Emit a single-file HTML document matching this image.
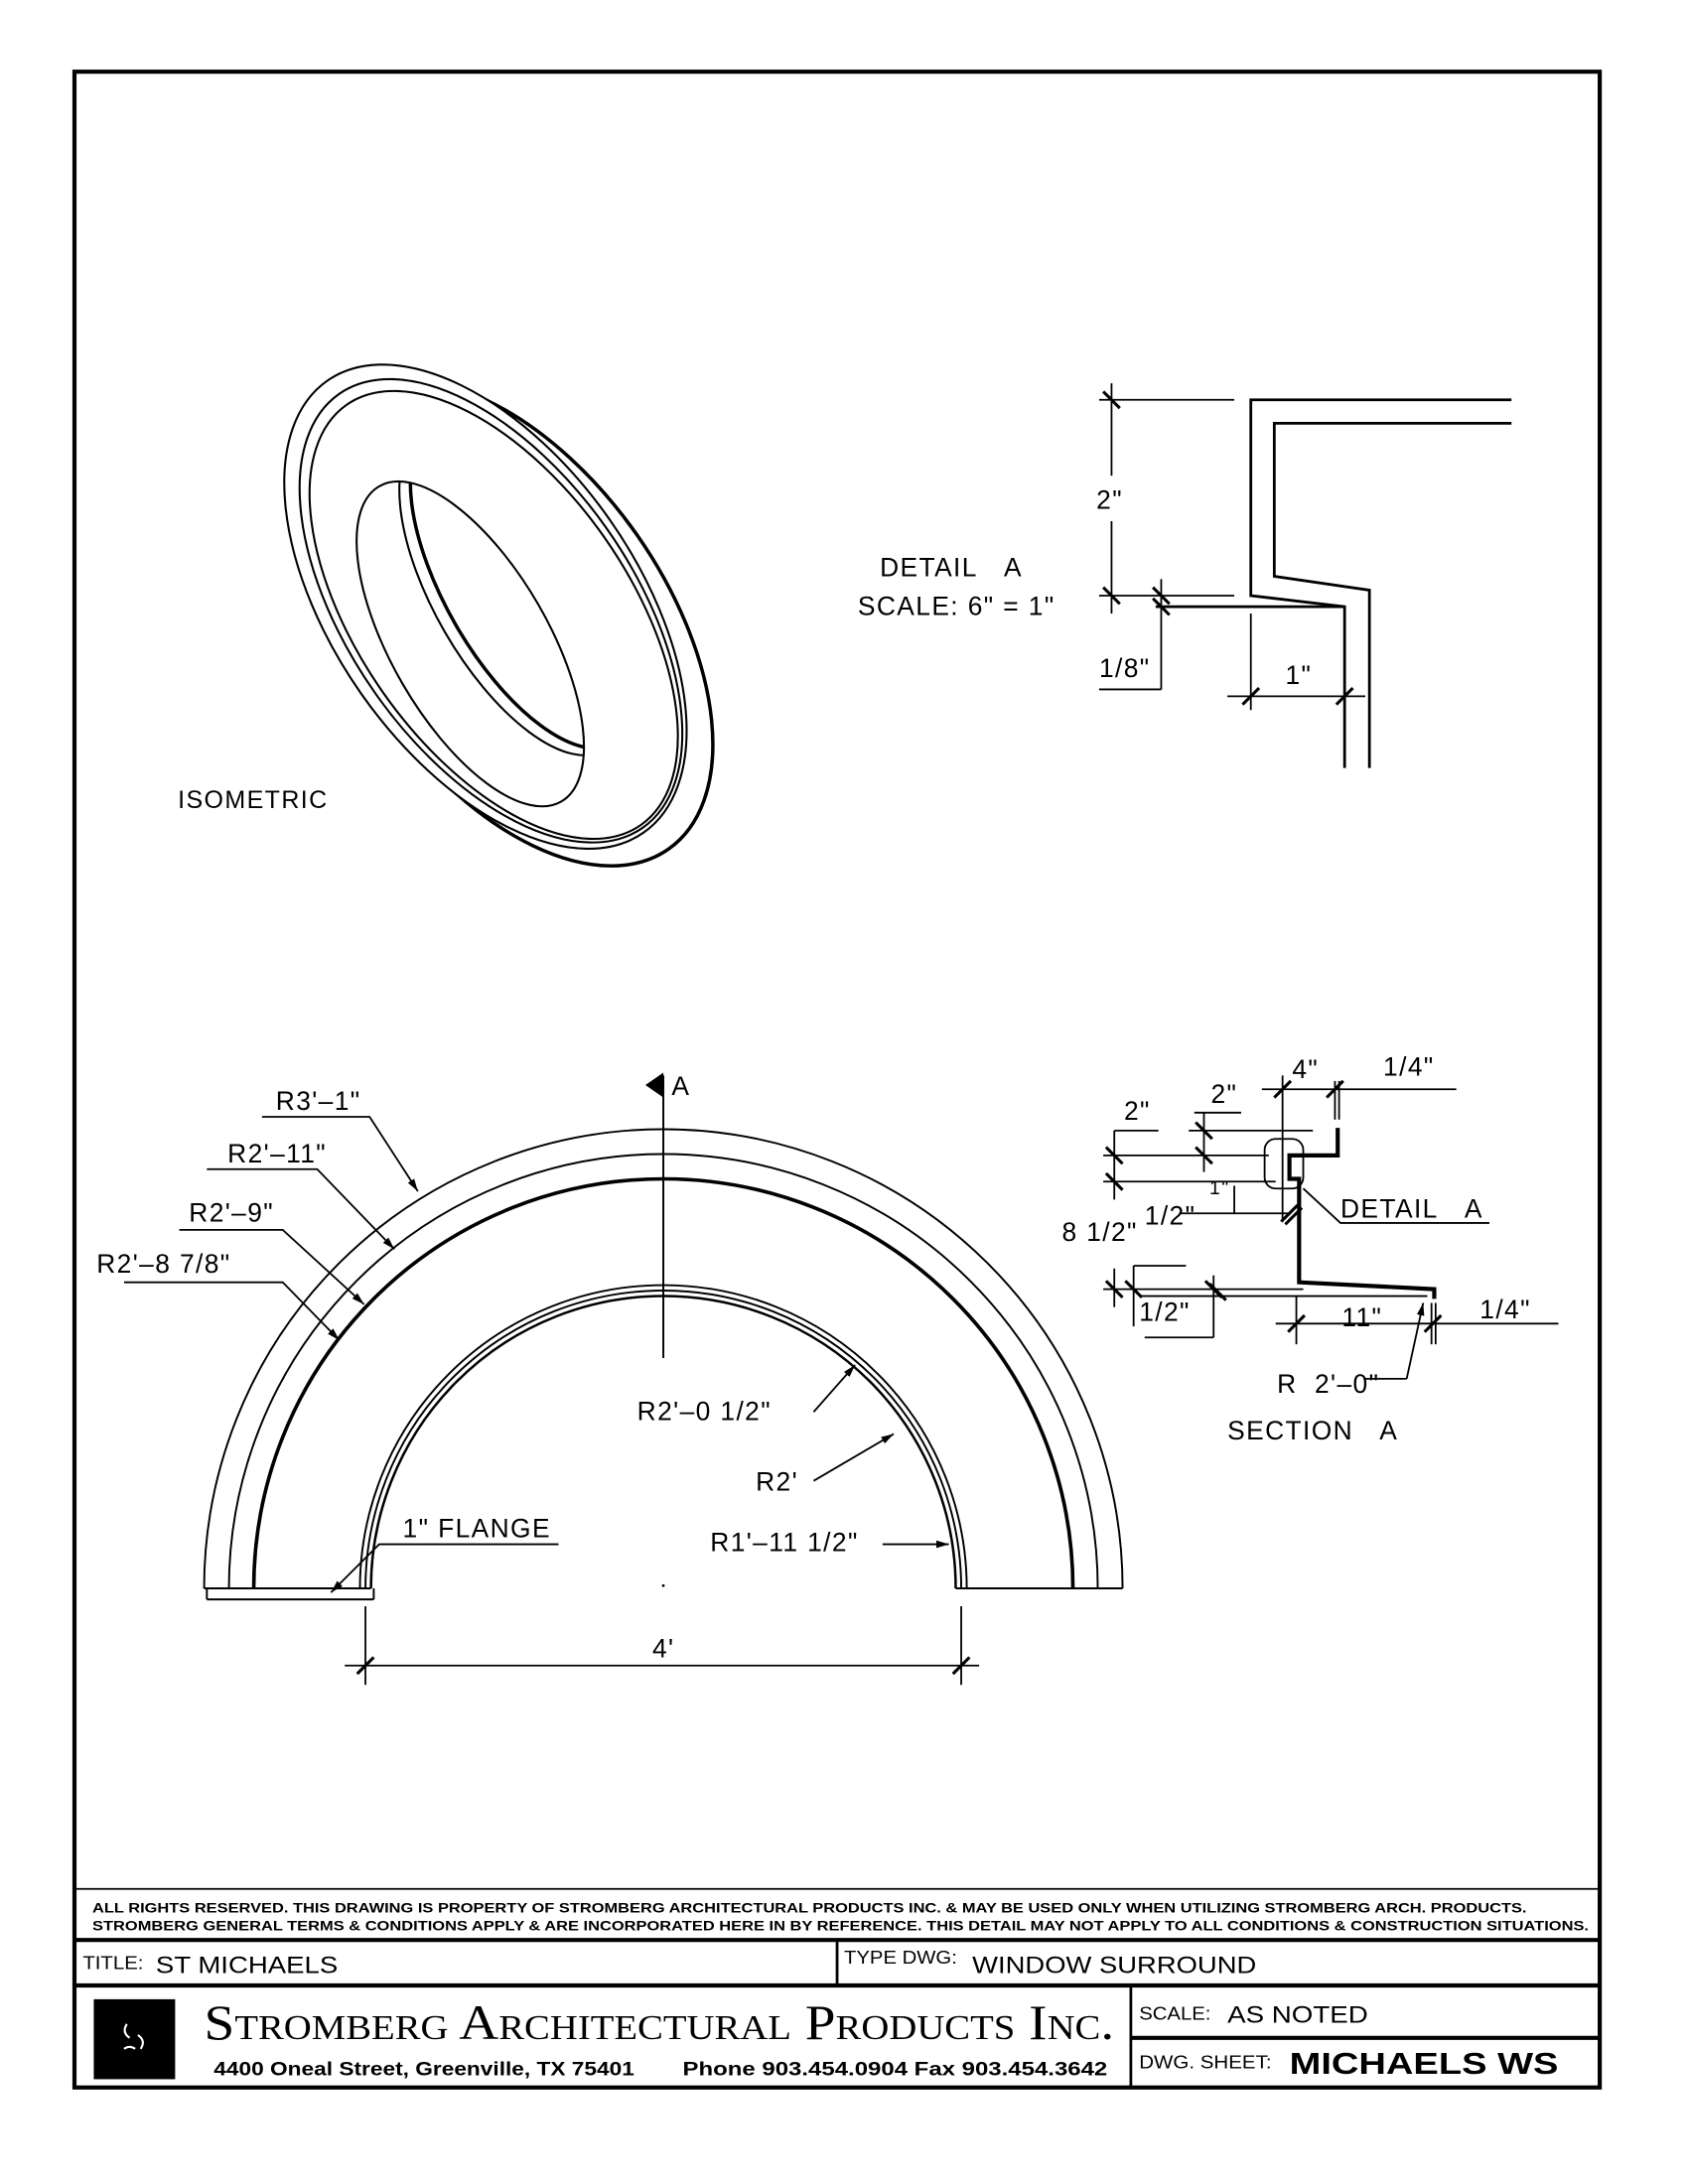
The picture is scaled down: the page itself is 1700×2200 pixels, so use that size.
<!DOCTYPE html>
<html><head><meta charset="utf-8"><style>
html,body{margin:0;padding:0;background:#fff;}
svg{display:block;}
text{font-family:"Liberation Sans",sans-serif;fill:#000;}
.c{font-size:19px;letter-spacing:1px;}
</style></head><body>
<svg width="1700" height="2200" viewBox="0 0 1224 1584" xmlns="http://www.w3.org/2000/svg">
<defs>
<clipPath id="hole"><ellipse cx="341" cy="467" rx="132" ry="57" transform="rotate(60 341 467)"/></clipPath>
<marker id="ar" viewBox="0 0 10 10" refX="10" refY="5" markerWidth="7" markerHeight="7" orient="auto"><path d="M0,2 L10,5 L0,8 z" fill="#000"/></marker>
</defs>
<rect x="0" y="0" width="1224" height="1584" fill="#fff"/>
<!-- frame -->
<rect x="54" y="52" width="1106" height="1462" fill="none" stroke="#000" stroke-width="3"/>

<!-- ISOMETRIC -->
<g fill="none" stroke="#000" stroke-width="1.5">
<ellipse cx="370" cy="452" rx="200" ry="112" transform="rotate(55 370 452)" stroke-width="2.5"/>
<ellipse cx="352" cy="440" rx="200" ry="110" transform="rotate(55 352 440)" fill="#fff"/>
<ellipse cx="356" cy="443" rx="192" ry="103" transform="rotate(55 356 443)"/>
<ellipse cx="358" cy="446" rx="186" ry="98" transform="rotate(55 358 446)"/>
<ellipse cx="341" cy="467" rx="132" ry="57" transform="rotate(60 341 467)"/>
<g clip-path="url(#hole)">
<ellipse cx="372" cy="430" rx="132" ry="57" transform="rotate(60 372 430)"/>
<ellipse cx="380" cy="425" rx="132" ry="57" transform="rotate(60 380 425)" stroke-width="2.5"/>
</g>
</g>
<text x="129" y="586" class="c" style="font-size:18px">ISOMETRIC</text>

<!-- DETAIL A -->
<g fill="none" stroke="#000" stroke-width="2">
<polyline points="1096,290 907,290 907,432 975,440 975,557"/>
<polyline points="1096,307 924,307 924,418 993,428 993,557"/>
</g>
<g stroke="#000" stroke-width="1.3">
<line x1="806" y1="278" x2="806" y2="345"/><line x1="806" y1="378" x2="806" y2="445"/>
<line x1="797" y1="290" x2="895" y2="290"/><line x1="797" y1="432" x2="895" y2="432"/>
<line x1="838" y1="440" x2="975" y2="440" stroke-width="2"/>
<line x1="842" y1="420" x2="842" y2="500"/><line x1="797" y1="500" x2="842" y2="500"/>
<line x1="890" y1="505" x2="990" y2="505"/>
<line x1="907" y1="445" x2="907" y2="515"/>
</g>
<g stroke="#000" stroke-width="2.2">
<line x1="800" y1="284" x2="812" y2="296"/><line x1="800" y1="426" x2="812" y2="438"/>
<line x1="836" y1="426" x2="848" y2="438"/><line x1="836" y1="434" x2="848" y2="446"/>
<line x1="901" y1="511" x2="913" y2="499"/><line x1="969" y1="511" x2="981" y2="499"/>
</g>
<text x="795" y="369" class="c">2"</text>
<text x="638" y="418" class="c">DETAIL&#160;&#160;&#160;A</text>
<text x="622" y="446" class="c">SCALE:&#160;6"&#160;=&#160;1"</text>
<text x="797" y="491" class="c">1/8"</text>
<text x="932" y="496" class="c">1"</text>

<!-- MAIN ARCH -->
<g fill="none" stroke="#000" stroke-width="1.4">
<path d="M148,1152 A333,333 0 0 1 814,1152"/>
<path d="M166,1152 A315,315 0 0 1 796,1152"/>
<path d="M184,1152 A297,297 0 0 1 778,1152" stroke-width="2.6"/>
<path d="M261,1152 A220,220 0 0 1 701,1152"/>
<path d="M265,1152 A216,216 0 0 1 697,1152"/>
<path d="M269,1152 A212,212 0 0 1 693,1152" stroke-width="1.8"/>
<line x1="148" y1="1152" x2="269" y2="1152"/>
<line x1="150" y1="1160" x2="271" y2="1160"/>
<line x1="150" y1="1152" x2="150" y2="1160"/>
<line x1="271" y1="1152" x2="271" y2="1160"/>
<line x1="693" y1="1152" x2="814" y2="1152"/>
<line x1="481" y1="780" x2="481" y2="985"/>
</g>
<path d="M481,778 L468,787 L481,796 z" fill="#000"/>
<text x="487" y="794" class="c">A</text>
<circle cx="481" cy="1150" r="1" fill="#000"/>

<!-- leaders -->
<g fill="none" stroke="#000" stroke-width="1.3" marker-end="url(#ar)">
<polyline points="190,810 268,810 303,864"/>
<polyline points="150,848 230,848 286,906"/>
<polyline points="130,892 205,892 264,946"/>
<polyline points="90,930 205,930 246,972"/>
<polyline points="590,1024 620,990"/>
<polyline points="590,1074 648,1040"/>
<polyline points="640,1120 688,1120"/>
<polyline points="405,1120 275,1120 240,1155"/>
</g>
<text x="200" y="805" class="c">R3'–1"</text>
<text x="165" y="843" class="c">R2'–11"</text>
<text x="137" y="886" class="c">R2'–9"</text>
<text x="70" y="923" class="c">R2'–8 7/8"</text>
<text x="462" y="1030" class="c">R2'–0 1/2"</text>
<text x="548" y="1081" class="c">R2'</text>
<text x="515" y="1125" class="c">R1'–11 1/2"</text>
<text x="292" y="1115" class="c">1"&#160;FLANGE</text>

<!-- 4' dim -->
<g stroke="#000" stroke-width="1.3">
<line x1="250" y1="1208" x2="710" y2="1208"/>
<line x1="265" y1="1165" x2="265" y2="1222"/>
<line x1="697" y1="1165" x2="697" y2="1222"/>
</g>
<g stroke="#000" stroke-width="2.2">
<line x1="259" y1="1214" x2="271" y2="1202"/><line x1="691" y1="1214" x2="703" y2="1202"/>
</g>
<text x="473" y="1202" class="c">4'</text>

<!-- SECTION A -->
<polyline points="970,818 970,838 935,838 935,855 942,855 942,930 1040,935 1040,942" fill="none" stroke="#000" stroke-width="3"/>
<g fill="none" stroke="#000" stroke-width="1.3">
<rect x="917" y="826" width="28" height="36" rx="8"/>
<polyline points="945,862 972,887 1080,887"/>
<line x1="915" y1="790" x2="1056" y2="790"/>
<line x1="930" y1="780" x2="930" y2="885"/>
<line x1="968" y1="784" x2="968" y2="812"/><line x1="971" y1="784" x2="971" y2="812"/>
<line x1="866" y1="807" x2="900" y2="807"/>
<line x1="873" y1="807" x2="873" y2="850"/>
<line x1="862" y1="820" x2="952" y2="820"/>
<line x1="800" y1="838" x2="920" y2="838"/>
<line x1="808" y1="820" x2="808" y2="870"/>
<line x1="808" y1="820" x2="840" y2="820"/>
<line x1="800" y1="857" x2="925" y2="857"/>
<line x1="855" y1="880" x2="935" y2="880"/>
<line x1="895" y1="860" x2="895" y2="880"/>
<line x1="800" y1="935" x2="945" y2="935"/>
<line x1="826" y1="940" x2="1035" y2="940"/>
<line x1="808" y1="920" x2="808" y2="948"/>
<line x1="822" y1="918" x2="822" y2="962"/>
<line x1="822" y1="918" x2="860" y2="918"/>
<line x1="880" y1="925" x2="880" y2="970"/>
<line x1="830" y1="970" x2="880" y2="970"/>
<line x1="925" y1="960" x2="1130" y2="960"/>
<line x1="940" y1="940" x2="940" y2="975"/>
<line x1="1038" y1="945" x2="1038" y2="975"/><line x1="1041" y1="945" x2="1041" y2="975"/>
<line x1="990" y1="1000" x2="1020" y2="1000"/>
</g>
<line x1="1020" y1="1000" x2="1032" y2="945" stroke="#000" stroke-width="1.3" marker-end="url(#ar)"/>
<g stroke="#000" stroke-width="2.2">
<line x1="924" y1="796" x2="936" y2="784"/><line x1="962" y1="796" x2="974" y2="784"/>
<line x1="867" y1="814" x2="879" y2="826"/><line x1="867" y1="832" x2="879" y2="844"/>
<line x1="802" y1="832" x2="814" y2="844"/><line x1="802" y1="851" x2="814" y2="863"/>
<line x1="929" y1="886" x2="941" y2="874"/><line x1="932" y1="888" x2="944" y2="876"/>
<line x1="802" y1="929" x2="814" y2="941"/><line x1="816" y1="929" x2="828" y2="941"/>
<line x1="874" y1="929" x2="886" y2="941"/><line x1="877" y1="931" x2="889" y2="943"/>
<line x1="934" y1="966" x2="946" y2="954"/><line x1="1033" y1="966" x2="1045" y2="954"/>
</g>
<text x="937" y="782" class="c">4"</text>
<text x="1003" y="780" class="c">1/4"</text>
<text x="878" y="800" class="c">2"</text>
<text x="815" y="812" class="c">2"</text>
<text x="877" y="866" class="c" style="font-size:14px">1"</text>
<text x="770" y="900" class="c">8&#160;1/2"</text>
<text x="830" y="888" class="c">1/2"</text>
<text x="826" y="958" class="c">1/2"</text>
<text x="973" y="962" class="c">11"</text>
<text x="1073" y="956" class="c">1/4"</text>
<text x="972" y="883" class="c">DETAIL&#160;&#160;&#160;A</text>
<text x="926" y="1010" class="c">R&#160;&#160;2'–0"</text>
<text x="890" y="1044" class="c">SECTION&#160;&#160;&#160;A</text>

<!-- TITLE BLOCK -->
<g stroke="#000">
<line x1="54" y1="1370" x2="1160" y2="1370" stroke-width="1.3"/>
<line x1="54" y1="1407" x2="1160" y2="1407" stroke-width="3"/>
<line x1="54" y1="1440" x2="1160" y2="1440" stroke-width="3"/>
<line x1="607" y1="1407" x2="607" y2="1440" stroke-width="2"/>
<line x1="820" y1="1440" x2="820" y2="1514" stroke-width="2"/>
<line x1="820" y1="1478" x2="1160" y2="1478" stroke-width="3"/>
</g>
<text x="67" y="1387" style="font-size:10px;font-weight:bold" textLength="1040" lengthAdjust="spacingAndGlyphs">ALL RIGHTS RESERVED. THIS DRAWING IS PROPERTY OF STROMBERG ARCHITECTURAL PRODUCTS INC. &amp; MAY BE USED ONLY WHEN UTILIZING STROMBERG ARCH. PRODUCTS.</text>
<text x="67" y="1400" style="font-size:10px;font-weight:bold" textLength="1085" lengthAdjust="spacingAndGlyphs">STROMBERG GENERAL TERMS &amp; CONDITIONS APPLY &amp; ARE INCORPORATED HERE IN BY REFERENCE. THIS DETAIL MAY NOT APPLY TO ALL CONDITIONS &amp; CONSTRUCTION SITUATIONS.</text>
<text x="60" y="1428" style="font-size:13px" textLength="44" lengthAdjust="spacingAndGlyphs">TITLE:</text>
<text x="113" y="1431" style="font-size:17px" textLength="132" lengthAdjust="spacingAndGlyphs">ST MICHAELS</text>
<text x="612" y="1424" style="font-size:13px" textLength="82" lengthAdjust="spacingAndGlyphs">TYPE DWG:</text>
<text x="705" y="1431" style="font-size:17px" textLength="206" lengthAdjust="spacingAndGlyphs">WINDOW SURROUND</text>
<rect x="68" y="1450" width="59" height="58" fill="#000"/>
<path d="M92,1468 q-4,6 2,10 M100,1476 q6,4 2,10 M90,1486 q4,-3 8,0" stroke="#fff" stroke-width="1.5" fill="none"/>
<text x="148" y="1479" style="font-family:'Liberation Serif',serif;font-size:36px;font-variant:small-caps" textLength="660" lengthAdjust="spacingAndGlyphs">Stromberg Architectural Products Inc.</text>
<text x="155" y="1505" style="font-size:14px;font-weight:bold" textLength="305" lengthAdjust="spacingAndGlyphs">4400 Oneal Street, Greenville, TX  75401</text>
<text x="495" y="1505" style="font-size:14px;font-weight:bold" textLength="308" lengthAdjust="spacingAndGlyphs">Phone 903.454.0904  Fax 903.454.3642</text>
<text x="826" y="1465" style="font-size:13px" textLength="52" lengthAdjust="spacingAndGlyphs">SCALE:</text>
<text x="890" y="1467" style="font-size:17px" textLength="102" lengthAdjust="spacingAndGlyphs">AS NOTED</text>
<text x="826" y="1500" style="font-size:13px" textLength="96" lengthAdjust="spacingAndGlyphs">DWG. SHEET:</text>
<text x="935" y="1504" style="font-size:22px;font-weight:bold" textLength="195" lengthAdjust="spacingAndGlyphs">MICHAELS WS</text>
</svg>
</body></html>
